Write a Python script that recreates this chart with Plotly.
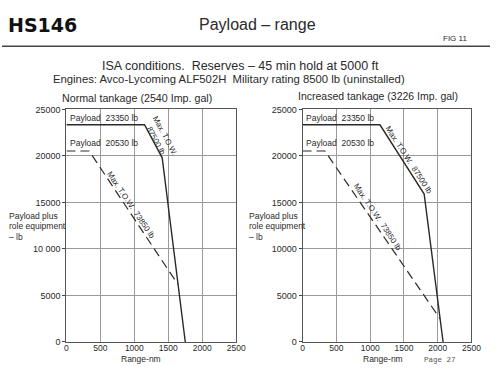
import plotly.graph_objects as go

# ---- data ----
x_ticks = [0, 500, 1000, 1500, 2000, 2500]
x_tick_labels = ["0", "500", "1000", "1500", "2000", "2500"]
y_ticks = [0, 5000, 10000, 15000, 20000, 25000]
y_tick_labels_left = ["0", "5000", "10 000", "15000", "20000", "25000"]
y_tick_labels_right = ["0", "5000", "10000", "15000", "20000", "25000"]

normal_max_range = [0, 1150, 1410, 1750]
normal_max_payload = [23350, 23350, 19800, 0]
normal_mil_range = [0, 335, 1640]
normal_mil_payload = [20530, 20530, 6200]

increased_max_range = [0, 1145, 1800, 2080]
increased_max_payload = [23350, 23350, 15900, 0]
increased_mil_range = [0, 330, 2035]
increased_mil_payload = [20530, 20530, 2500]

FONT = "Liberation Sans"
INK = "#2a2a2a"

W, H = 500, 372
def px(x):
    return x / W
def py(y):
    return 1 - y / H

fig = go.Figure()

solid = dict(color=INK, width=1.4)
dashed = dict(color=INK, width=1.2, dash="9px,5px")

fig.add_trace(go.Scatter(x=normal_max_range, y=normal_max_payload, mode="lines",
                         line=solid, xaxis="x", yaxis="y", showlegend=False))
fig.add_trace(go.Scatter(x=normal_mil_range, y=normal_mil_payload, mode="lines",
                         line=dashed, xaxis="x", yaxis="y", showlegend=False))
fig.add_trace(go.Scatter(x=increased_max_range, y=increased_max_payload, mode="lines",
                         line=solid, xaxis="x2", yaxis="y2", showlegend=False))
fig.add_trace(go.Scatter(x=increased_mil_range, y=increased_mil_payload, mode="lines",
                         line=dashed, xaxis="x2", yaxis="y2", showlegend=False))

ydom = [py(346.3), py(107.3)]
common = dict(showgrid=True, gridcolor="#9a9a9a", gridwidth=1, showline=True,
              linecolor="#555", linewidth=1, mirror=True, zeroline=False,
              fixedrange=True)
xcommon = dict(ticks="", ticklabelstandoff=-2,
               tickfont=dict(family=FONT, size=8.5, color=INK), **common)
ycommon = dict(ticks="outside", ticklen=3, tickcolor="#444",
               tickfont=dict(family=FONT, size=9, color=INK), **common)

fig.update_layout(
    width=W, height=H,
    margin=dict(l=0, r=0, t=0, b=0),
    paper_bgcolor="white", plot_bgcolor="white",
    xaxis=dict(domain=[px(66), px(240)], range=[0, 2500], tickvals=x_ticks,
               ticktext=x_tick_labels, anchor="y", **xcommon),
    yaxis=dict(domain=ydom, range=[0, 25000], tickvals=y_ticks,
               ticktext=y_tick_labels_left, anchor="x", **ycommon),
    xaxis2=dict(domain=[px(308), px(481)], range=[0, 2500], tickvals=x_ticks,
                ticktext=x_tick_labels, anchor="y2", **xcommon),
    yaxis2=dict(domain=ydom, range=[0, 25000], tickvals=y_ticks,
                ticktext=y_tick_labels_right, anchor="x2", **ycommon),
    shapes=[dict(type="line", xref="paper", yref="paper", x0=0, x1=1,
                 y0=py(42.5), y1=py(42.5), line=dict(color="#444", width=1.5))],
)

anns = []
def txt(x, y, text, size, xanchor="center", family=FONT, bold=False, color=INK):
    if bold:
        text = "<b>" + text + "</b>"
    anns.append(dict(x=px(x), y=py(y), xref="paper", yref="paper", text=text,
                     showarrow=False, xanchor=xanchor, yanchor="middle",
                     font=dict(family=family, size=size, color=color)))

txt(4, 20.5, "HS146", 19, xanchor="left", family="DejaVu Sans", bold=True, color="#111")
txt(262, 20, "Payload – range", 16)
txt(464, 34, "FIG 11", 8)
txt(244, 63, "ISA conditions.  Reserves – 45 min hold at 5000 ft", 12.5)
txt(233, 76, "Engines: Avco-Lycoming ALF502H  Military rating 8500 lb (uninstalled)", 11.3)
txt(138, 96, "Normal tankage (2540 Imp. gal)", 10.7)
txt(385, 94, "Increased tankage (3226 Imp. gal)", 10.5)

for lx in (5, 251):
    txt(lx, 217, "Payload plus", 8.5, xanchor="left")
    txt(lx, 227.5, "role equipment", 8.5, xanchor="left")
    txt(lx, 238, "– lb", 8.5, xanchor="left")

txt(142, 364, "Range-nm", 8.5)
txt(390, 364, "Range-nm", 8.5)
txt(449, 365, "Page 27", 7.5, family="Liberation Mono", color="#555")

def dann(xref, yref, x, y, text, angle, size=8, xanchor="center"):
    anns.append(dict(x=x, y=y, xref=xref, yref=yref, text=text, showarrow=False,
                     textangle=angle, xanchor=xanchor, yanchor="middle",
                     font=dict(family=FONT, size=size, color=INK)))

# line labels
dann("x", "y", 20, 24050, "Payload  23350 lb", 0, 8.5, "left")
dann("x", "y", 20, 21350, "Payload  20530 lb", 0, 8.5, "left")
dann("x2", "y2", 20, 24050, "Payload  23350 lb", 0, 8.5, "left")
dann("x2", "y2", 20, 21350, "Payload  20530 lb", 0, 8.5, "left")
dann("x", "y", 1390, 21900, "Max. T.O.W.<br>87500 lb", 62, 8)
dann("x", "y", 950, 14650, "Max. T.O.W.  73850 lb", 56, 8)
dann("x2", "y2", 1575, 19500, "Max. T.O.W.  87500 lb", 57, 8)
dann("x2", "y2", 1115, 13400, "Max. T.O.W.  73850 lb", 56, 8)

fig.update_layout(annotations=anns)
fig.write_html("out.html", config={"displayModeBar": False},
               post_script="document.body.style.margin='0';document.body.style.overflow='hidden';")
